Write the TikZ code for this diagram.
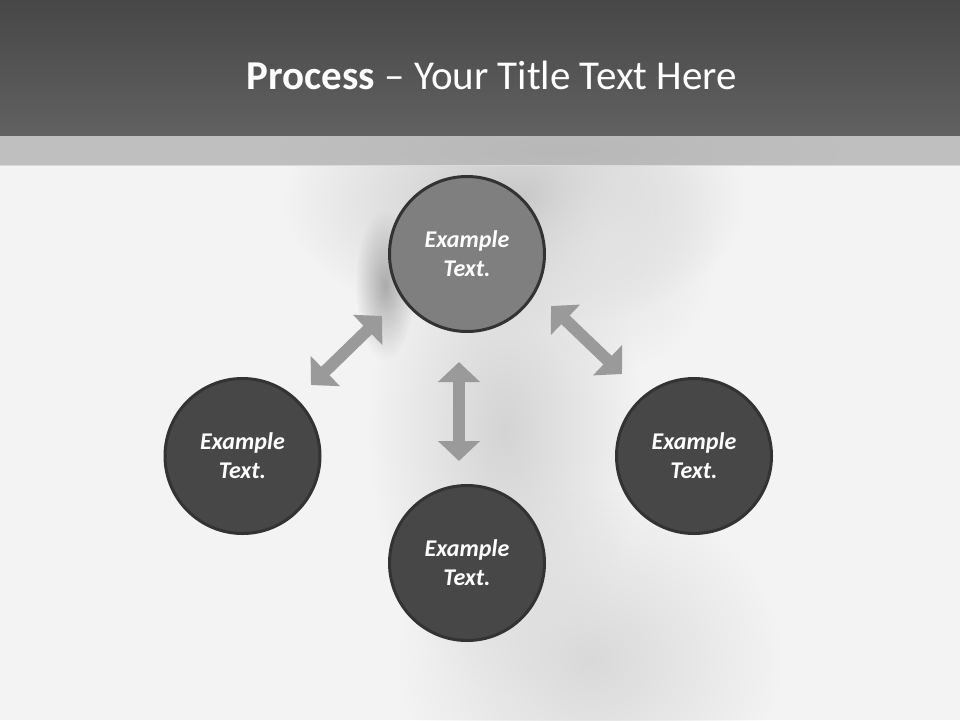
\documentclass[tikz,border=0pt]{standalone}
\usepackage{fontspec}
\setmainfont{Carlito}
\usetikzlibrary{arrows.meta,fadings}
\definecolor{bgc}{HTML}{F3F3F3}
\definecolor{hdtop}{HTML}{474747}
\definecolor{hdbot}{HTML}{616161}
\definecolor{bandc}{HTML}{BFBFBF}
\definecolor{ringc}{HTML}{333333}
\definecolor{lightfill}{HTML}{7F7F7F}
\definecolor{darkfill}{HTML}{474747}
\definecolor{arrc}{HTML}{9A9A9A}
\tikzfading[name=fuzzy, inner color=transparent!0, outer color=transparent!100]
\tikzset{
  blob/.style={fill=#1, path fading=fuzzy},
  stepcircle/.style={circle, draw=ringc, line width=3pt, minimum size=155pt,
    inner sep=0pt, text=white, align=center,
    font=\fontsize{24}{29}\selectfont\bfseries\itshape},
  lightcircle/.style={stepcircle, fill=lightfill},
  darkcircle/.style={stepcircle, fill=darkfill},
  dblarrow/.style={draw=arrc, line width=12pt,
    {Triangle[length=20pt,width=41pt]}-{Triangle[length=20pt,width=41pt]}, arrows={[fill=arrc]}},
}
\begin{document}
\begin{tikzpicture}[x=1pt,y=-1pt]
\useasboundingbox (0,0) rectangle (960,720);
% background
\fill[bgc] (0,0) rectangle (960,720);
\begin{scope}
\clip (0,165) rectangle (960,720);
\fill[blob=black!22] (515,200) ellipse (230 and 130);
\fill[blob=black!17] (505,430) ellipse (135 and 260);
\fill[blob=black!15] (590,660) ellipse (190 and 170);
\fill[blob=black!11] (615,250) ellipse (100 and 120);
\fill[blob=black!33] (385,285) ellipse (30 and 75);
\end{scope}
% header
\shade[top color=hdtop, bottom color=hdbot] (0,0) rectangle (960,136);
\fill[bandc] (0,136) rectangle (960,165);
\begin{scope}
\clip (0,136) rectangle (960,165);
\fill[blob=black!28] (560,150) ellipse (280 and 50);
\end{scope}
\draw[white!85!black, line width=0.8pt] (0,165) -- (960,165);
\node[text=white, font=\fontsize{41}{48}\selectfont] (title) at (492,75)
  {\textbf{Process} – Your Title Text Here};
% circles
\node[lightcircle] (top) at (467,254) {Example\\Text.};
\node[darkcircle] (left) at (242.5,456) {Example\\Text.};
\node[darkcircle] (bottom) at (467,563) {Example\\Text.};
\node[darkcircle] (right) at (694,456) {Example\\Text.};
% arrows
\coordinate (v1) at (459,362);
\coordinate (v2) at (459,461);
\coordinate (l1) at (311,385);
\coordinate (l2) at (382,316);
\coordinate (r1) at (551,306);
\coordinate (r2) at (622,374);
\draw[dblarrow] (v1) -- (v2);
\draw[dblarrow] (l1) -- (l2);
\draw[dblarrow] (r1) -- (r2);
\end{tikzpicture}
\end{document}
